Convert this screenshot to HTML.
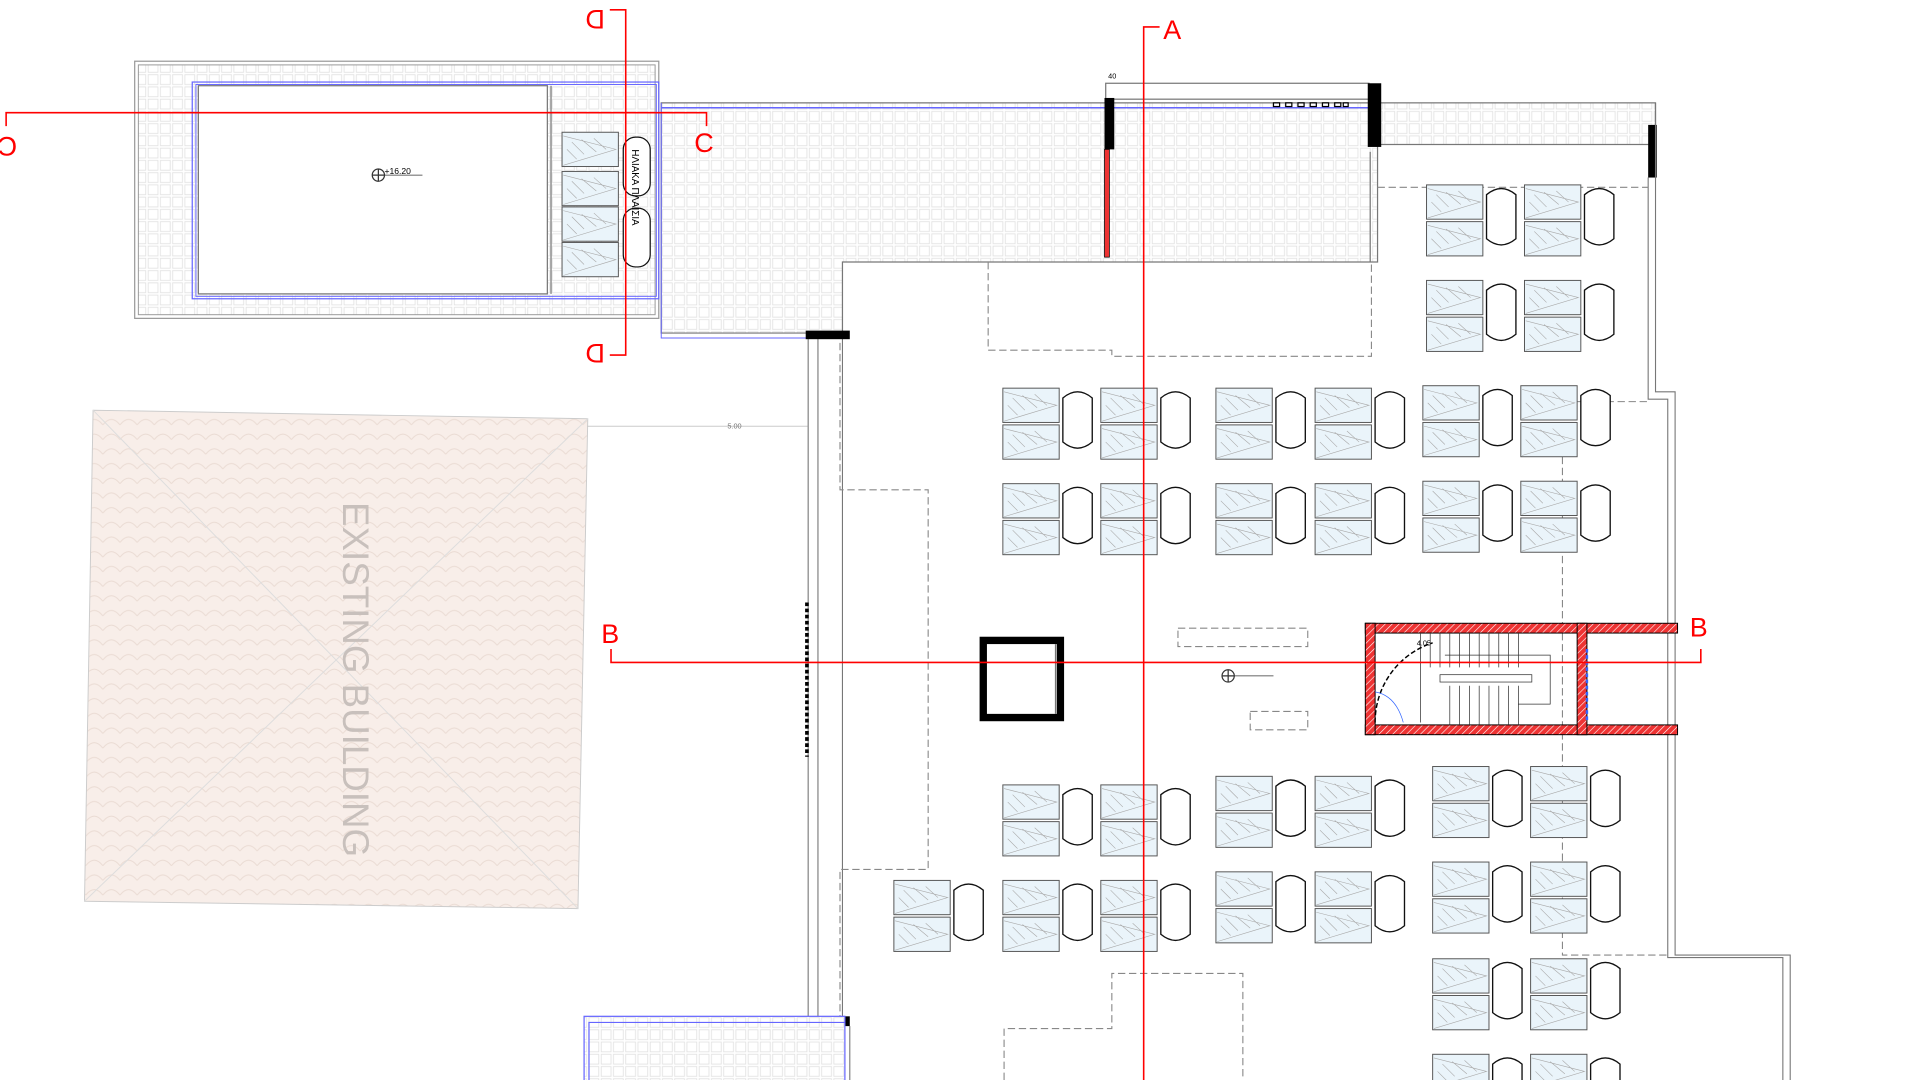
<!DOCTYPE html>
<html><head><meta charset="utf-8"><style>html,body{margin:0;padding:0;background:#fff;overflow:hidden}svg{display:block}</style></head>
<body>
<svg width="1920" height="1080" viewBox="0 0 1568 882" xmlns="http://www.w3.org/2000/svg" font-family="Liberation Sans, sans-serif">
<defs>
<pattern id="tile" width="10" height="10" patternUnits="userSpaceOnUse"><rect width="10" height="10" fill="#fff"/><rect x="1" y="1" width="8" height="8" fill="none" stroke="#e2e2e2" stroke-width="0.7"/></pattern>
<pattern id="roof" width="14" height="12" patternUnits="userSpaceOnUse"><rect width="14" height="12" fill="#f8eee9"/><path d="M0 11 Q7 2 14 11" fill="none" stroke="#eadbd3" stroke-width="0.8"/></pattern>
<pattern id="hatch" width="4" height="4" patternUnits="userSpaceOnUse" patternTransform="rotate(45)"><rect width="4" height="4" fill="#e33"/><line x1="0" y1="0" x2="0" y2="4" stroke="#fff" stroke-width="1"/></pattern>
<g id="pn"><rect x="0" y="0" width="46" height="28" fill="#eaf4fa" stroke="#555" stroke-width="0.8"/><path d="M1 3 L44 14 L1 27 M8 8 L18 18 M16 6 L28 16 M26 5 L36 14 M4 14 L12 22" fill="none" stroke="#aaa" stroke-width="0.5"/></g>
<g id="grp"><use href="#pn"/><use href="#pn" y="30"/><path d="M49 8 Q61 -2 73 8 V44 Q61 54 49 44 Z" fill="#fff" stroke="#111" stroke-width="1.1"/></g>
</defs>

<rect x="110" y="50" width="428" height="210" fill="none" stroke="#999" stroke-width="1"/>
<rect x="113" y="53" width="422" height="204" fill="url(#tile)" stroke="#999" stroke-width="0.8"/>
<rect x="157" y="67" width="381" height="177" fill="none" stroke="#66f" stroke-width="1"/>
<rect x="160" y="69" width="376" height="173" fill="none" stroke="#66f" stroke-width="0.8"/>
<rect x="162" y="70" width="285" height="170" fill="#fff" stroke="#777" stroke-width="1"/>
<line x1="450" y1="70" x2="450" y2="240" stroke="#777"/>
<use href="#pn" x="459" y="108"/><use href="#pn" x="459" y="140"/><use href="#pn" x="459" y="169"/><use href="#pn" x="459" y="198"/>
<rect x="509" y="112" width="22" height="48" rx="10" fill="#fff" stroke="#111"/>
<rect x="509" y="170" width="22" height="48" rx="10" fill="#fff" stroke="#111"/>
<text transform="translate(516,122) rotate(90)" font-size="8">ΗΛΙΑΚΑ ΠΛΑΙΣΙΑ</text>
<circle cx="309" cy="143" r="5" fill="#fff" stroke="#333"/><path d="M309 138 V148 M304 143 H314" stroke="#333"/><line x1="314" y1="143" x2="345" y2="143" stroke="#333" stroke-width="0.6"/>
<text x="314" y="142" font-size="7">+16.20</text>

<path d="M540 84 H1125 V214 H688 V272 H540 Z" fill="url(#tile)" stroke="#777"/>
<path d="M540 88 H1352" stroke="#66f" stroke-width="1.2"/>
<path d="M540 84 V276 H660" fill="none" stroke="#66f" stroke-width="0.8"/>
<rect x="1125" y="84" width="227" height="34" fill="url(#tile)" stroke="#777"/>
<rect x="903" y="68" width="215" height="13" fill="#fff" stroke="#777"/>
<line x1="1119" y1="124" x2="1119" y2="214" stroke="#777"/>
<rect x="902" y="80" width="8" height="42" fill="#000"/>
<rect x="1117" y="68" width="11" height="52" fill="#000"/>
<rect x="1346" y="102" width="7" height="43" fill="#000"/>
<rect x="902" y="122" width="4" height="88" fill="#e33" stroke="#000" stroke-width="0.6"/>
<g fill="#fff" stroke="#000" stroke-width="1"><rect x="1040" y="84" width="5" height="3"/><rect x="1050" y="84" width="5" height="3"/><rect x="1060" y="84" width="5" height="3"/><rect x="1070" y="84" width="5" height="3"/><rect x="1080" y="84" width="5" height="3"/><rect x="1090" y="84" width="5" height="3"/><rect x="1097" y="84" width="4" height="3"/></g>
<text x="905" y="64" font-size="6">40</text>

<g fill="none" stroke="#777" stroke-width="0.9">
<path d="M1346 145 V326 H1362 V782 H1456 V882"/>
<path d="M1352 84 V320 H1368 V780 H1462 V882"/>
<path d="M660 277 V830 M668 277 V830"/>
<path d="M688 272 V882 M694 838 V882"/>
</g>
<rect x="658" y="270" width="36" height="7" fill="#000"/>
<rect x="658" y="830" width="36" height="8" fill="#000"/>
<g stroke="#000" stroke-dasharray="3,2" stroke-width="3"><line x1="659" y1="492" x2="659" y2="618"/></g>

<g fill="none" stroke="#888" stroke-dasharray="6,3" stroke-width="0.9">
<path d="M807 214 V286 H908 V291 H1120 V214"/>
<path d="M1125 153 H1346"/>
<path d="M1276 328 H1346 M1276 328 V780 H1362"/>
<path d="M686 280 V400 H758 V710 H686 V830"/>
<path d="M820 882 V840 H908 V795 H1015 V882"/>
<rect x="962" y="513" width="106" height="15"/>
<rect x="1021" y="581" width="47" height="15"/>
</g>

<path d="M76 335 L480 342 L472 742 L69 736 Z" fill="url(#roof)" stroke="#ccc" stroke-width="0.8"/>
<path d="M76 335 L472 742 M480 342 L69 736" stroke="#ddd" stroke-width="0.8"/>
<text transform="translate(280,410) rotate(90)" font-size="30" fill="#c8c0bc">EXISTING BUILDING</text>
<line x1="480" y1="348" x2="660" y2="348" stroke="#999" stroke-width="0.5"/>
<text x="594" y="350" font-size="6" fill="#777">5.00</text>

<g>
<use href="#grp" x="1165" y="151"/><use href="#grp" x="1245" y="151"/>
<use href="#grp" x="1165" y="229"/><use href="#grp" x="1245" y="229"/>
<use href="#grp" x="819" y="317"/><use href="#grp" x="899" y="317"/><use href="#grp" x="993" y="317"/><use href="#grp" x="1074" y="317"/><use href="#grp" x="1162" y="315"/><use href="#grp" x="1242" y="315"/>
<use href="#grp" x="819" y="395"/><use href="#grp" x="899" y="395"/><use href="#grp" x="993" y="395"/><use href="#grp" x="1074" y="395"/><use href="#grp" x="1162" y="393"/><use href="#grp" x="1242" y="393"/>
<use href="#grp" x="819" y="641"/><use href="#grp" x="899" y="641"/><use href="#grp" x="993" y="634"/><use href="#grp" x="1074" y="634"/><use href="#grp" x="1170" y="626"/><use href="#grp" x="1250" y="626"/>
<use href="#grp" x="730" y="719"/><use href="#grp" x="819" y="719"/><use href="#grp" x="899" y="719"/><use href="#grp" x="993" y="712"/><use href="#grp" x="1074" y="712"/><use href="#grp" x="1170" y="704"/><use href="#grp" x="1250" y="704"/>
<use href="#grp" x="1170" y="783"/><use href="#grp" x="1250" y="783"/>
<use href="#grp" x="1170" y="861"/><use href="#grp" x="1250" y="861"/>
</g>

<rect x="803" y="523" width="63" height="63" fill="#fff" stroke="#000" stroke-width="6"/>
<line x1="862" y1="526" x2="862" y2="583" stroke="#777"/>

<rect x="1115" y="509" width="255" height="8" fill="url(#hatch)" stroke="#000" stroke-width="0.8"/>
<rect x="1115" y="592" width="255" height="8" fill="url(#hatch)" stroke="#000" stroke-width="0.8"/>
<rect x="1115" y="509" width="8" height="91" fill="url(#hatch)" stroke="#000" stroke-width="0.8"/>
<rect x="1288" y="509" width="8" height="91" fill="url(#hatch)" stroke="#000" stroke-width="0.8"/>
<g stroke="#333" stroke-width="0.6" fill="none">
<path d="M1160 517 V590 M1168 517 V545 M1176 517 V545 M1184 517 V545 M1192 517 V545 M1200 517 V545 M1208 517 V545 M1216 517 V545 M1224 517 V545 M1232 517 V545 M1240 517 V545"/>
<path d="M1184 560 V592 M1192 560 V592 M1200 560 V592 M1208 560 V592 M1216 560 V592 M1224 560 V592 M1232 560 V592 M1240 560 V592"/>
<rect x="1176" y="551" width="75" height="6" fill="#fff"/>
<path d="M1123 590 A68 68 0 0 1 1170 525" stroke-dasharray="4,2" stroke="#000" stroke-width="1.2"/>
<path d="M1180 535 H1266 V575 H1240"/>
<line x1="1296" y1="530" x2="1296" y2="590" stroke="#36f" stroke-width="2" stroke-dasharray="3,2"/>
<path d="M1123 565 Q1140 568 1146 590" stroke="#36f"/>
</g>
<text x="1157" y="527" font-size="6">4.05</text>

<circle cx="1003" cy="552" r="5" fill="#fff" stroke="#333"/><path d="M1003 547 V557 M998 552 H1008" stroke="#333"/><line x1="1008" y1="552" x2="1040" y2="552" stroke="#333" stroke-width="0.6"/>

<rect x="477" y="830" width="213" height="60" fill="url(#tile)" stroke="#66f"/>
<path d="M481 882 V835 H690" fill="none" stroke="#66f"/>

<g stroke="#f00" stroke-width="1.3" fill="none">
<path d="M934 882 V22 H947"/>
<path d="M499 530 V541 H1389 V530"/>
<path d="M5 103 V92 H577 V103"/>
<path d="M498 8 H511 V290 H498"/>
</g>
<g fill="#f00" font-size="22">
<text x="950" y="32">A</text>
<text x="491" y="525">B</text>
<text x="1380" y="520">B</text>
<text x="567" y="124">C</text>
<text transform="translate(14,112) rotate(180)">C</text>
<text transform="translate(494,8) rotate(180)">D</text>
<text transform="translate(494,281) rotate(180)">D</text>
</g>
</svg>
</body></html>
